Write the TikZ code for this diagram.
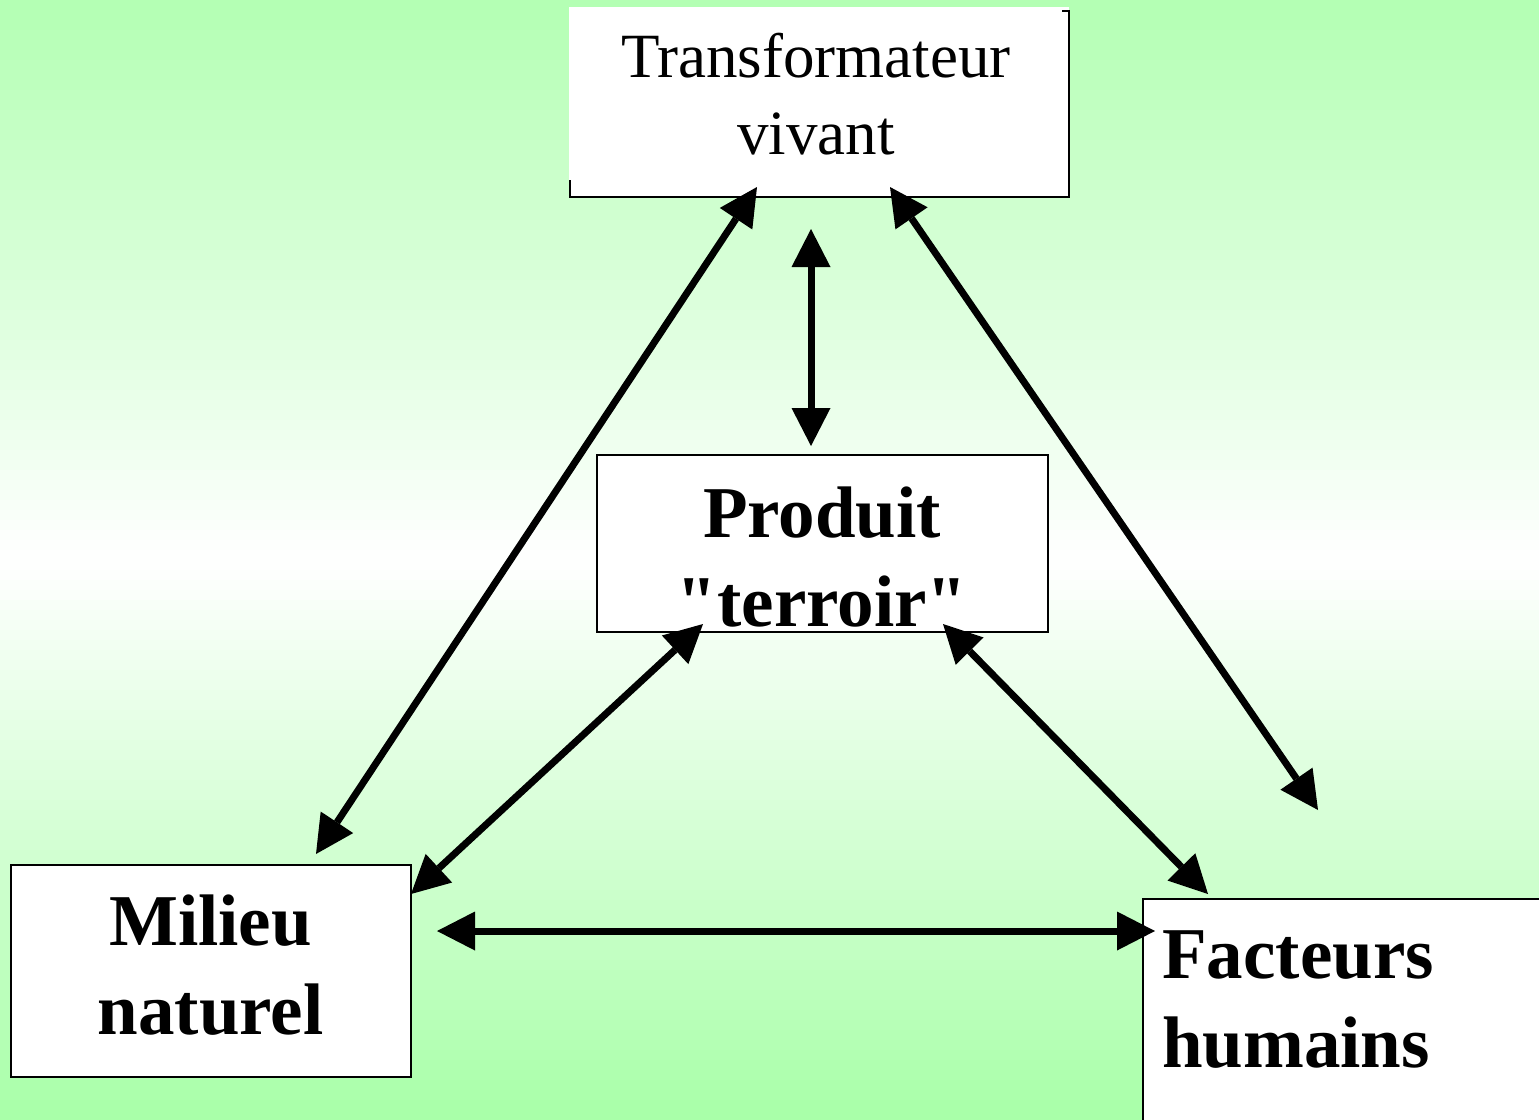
\documentclass[tikz,border=0pt]{standalone}
\usepackage{fontspec}
\setmainfont{Liberation Serif}[Ligatures=TeXOff]
\usetikzlibrary{arrows.meta}
\definecolor{bgtop}{RGB}{179,255,179}
\definecolor{bgbot}{RGB}{168,255,168}
\tikzset{
  box/.style={draw=black, fill=white, line width=1.8pt, rectangle, inner sep=0pt, outer sep=0pt, anchor=north west},
  regtxt/.style={font=\fontsize{63}{77}\selectfont, align=center, inner sep=0pt},
  boldtxt/.style={font=\bfseries\fontsize{73}{89}\selectfont, align=center, inner sep=0pt},
  dbl/.style={line width=7pt, {Triangle[length=38pt,width=39pt,line width=0pt]}-{Triangle[length=38pt,width=39pt,line width=0pt]}}
}
\begin{document}
\begin{tikzpicture}[x=1pt,y=-1pt]
\useasboundingbox (0,0) rectangle (1539,1119);
\clip (0,0) rectangle (1539,1119);
% background gradient: green at top, white in the middle, green at bottom
\foreach \i in {0,...,111}{
  \pgfmathsetmacro{\yy}{\i*10}
  \pgfmathsetmacro{\tt}{min(100,abs(\yy+5-560)/560*100)}
  \ifnum\i<56
    \fill[bgtop!\tt!white] (0,\yy) rectangle (1539,\yy+10.5);
  \else
    \fill[bgbot!\tt!white] (0,\yy) rectangle (1539,\yy+10.5);
  \fi
}

% Transformateur box (partial outline)
\node[fill=white, rectangle, inner sep=0pt, outer sep=0pt, anchor=north west, minimum width=500pt, minimum height=190pt] (trans) at (569,7) {};
\draw[line width=1.8pt] (570,180) -- (570,197) -- (1069,197) -- (1069,11) -- (1062,11);
\node[regtxt] (transT) at (816,94) {Transformateur\\vivant};

% Produit box
\node[box, minimum width=451pt, minimum height=177pt] (prod) at (597,455) {};
\node[boldtxt] (prodT) at (822,557.5) {Produit\\"terroir"};

% Milieu box
\node[box, minimum width=400pt, minimum height=212pt] (mil) at (11,865) {};
\node[boldtxt] (milT) at (210.5,965) {Milieu\\naturel};

% Facteurs box
\node[box, minimum width=420pt, minimum height=240pt] (fac) at (1143,899) {};
\node[boldtxt, align=left, anchor=west] (facT) at (1162,1000) {Facteurs\\humains};

% arrow end points
\coordinate (tmA) at (757,187);
\coordinate (tmB) at (316,854);
\coordinate (tfA) at (890,187);
\coordinate (tfB) at (1318,810);
\coordinate (tpA) at (811,229);
\coordinate (tpB) at (811,446);
\coordinate (pmA) at (703,624);
\coordinate (pmB) at (411,894);
\coordinate (pfA) at (943,624);
\coordinate (pfB) at (1208,894);
\coordinate (mfA) at (437,931);
\coordinate (mfB) at (1155,931);

\draw[dbl] (tmA) -- (tmB);
\draw[dbl] (tfA) -- (tfB);
\draw[dbl] (tpA) -- (tpB);
\draw[dbl] (pmA) -- (pmB);
\draw[dbl] (pfA) -- (pfB);
\draw[dbl] (mfA) -- (mfB);
\end{tikzpicture}
\end{document}
